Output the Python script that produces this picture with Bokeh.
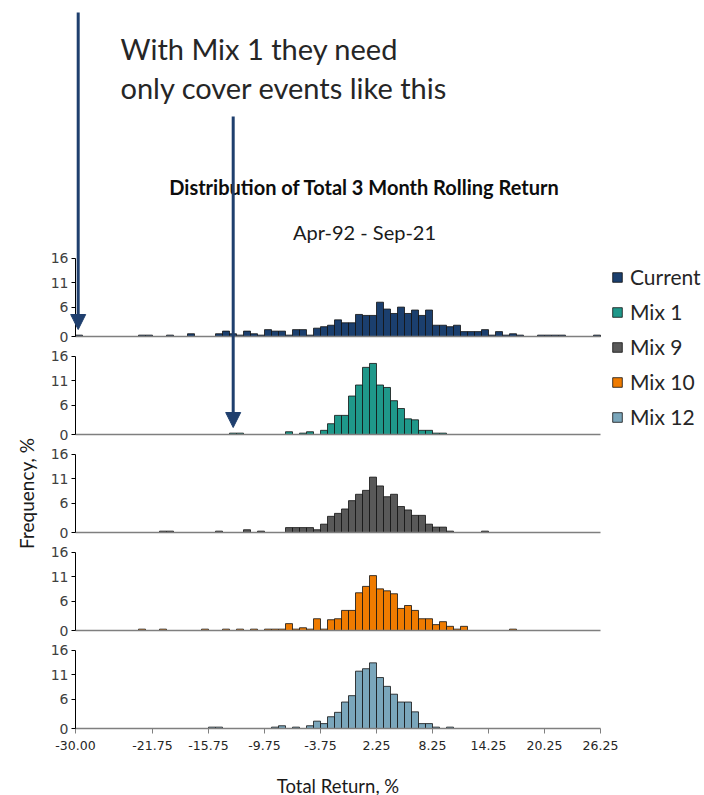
from bokeh.plotting import figure
from bokeh.models import (Range1d, LinearAxis, FixedTicker, PrintfTickFormatter, Label,
                          Arrow, NormalHead, Legend, LegendItem, ColumnDataSource)
from bokeh.embed import file_html
from bokeh.resources import INLINE

# ---------------- data ----------------
BIN_LEFT = [-30.00, -29.25, -28.50, -27.75, -27.00, -26.25, -25.50, -24.75, -24.00, -23.25,
            -22.50, -21.75, -21.00, -20.25, -19.50, -18.75, -18.00, -17.25, -16.50, -15.75,
            -15.00, -14.25, -13.50, -12.75, -12.00, -11.25, -10.50, -9.75, -9.00, -8.25,
            -7.50, -6.75, -6.00, -5.25, -4.50, -3.75, -3.00, -2.25, -1.50, -0.75,
            0.00, 0.75, 1.50, 2.25, 3.00, 3.75, 4.50, 5.25, 6.00, 6.75,
            7.50, 8.25, 9.00, 9.75, 10.50, 11.25, 12.00, 12.75, 13.50, 14.25,
            15.00, 15.75, 16.50, 17.25, 18.00, 18.75, 19.50, 20.25, 21.00, 21.75,
            22.50, 23.25, 24.00, 24.75, 25.50]
BIN_WIDTH = 0.75

CURRENT = [0.28, 0, 0, 0, 0, 0, 0, 0, 0, 0.28,
           0.28, 0, 0, 0.28, 0, 0, 0.56, 0, 0, 0,
           0.56, 1.1, 0.56, 0.28, 1.1, 0.56, 0.28, 1.4, 1.1, 1.1,
           0.28, 1.4, 1.4, 0.28, 1.7, 2.0, 2.3, 3.4, 2.8, 2.8,
           4.5, 4.3, 4.3, 7.0, 5.6, 4.7, 6.0, 4.7, 5.4, 4.3,
           5.4, 2.3, 2.3, 2.0, 2.3, 1.0, 1.0, 1.0, 1.4, 0.28,
           1.0, 0.28, 0.56, 0.28, 0, 0, 0.28, 0.28, 0.28, 0.28,
           0, 0, 0, 0, 0.28]
MIX_1 = [0, 0, 0, 0, 0, 0, 0, 0, 0, 0,
         0, 0, 0, 0, 0, 0, 0, 0, 0, 0,
         0, 0, 0.28, 0.28, 0, 0, 0, 0, 0, 0,
         0.56, 0, 0.28, 0.56, 0, 0.85, 2.2, 3.9, 3.9, 7.85,
         10.1, 13.7, 14.5, 10.1, 9.6, 6.9, 5.3, 3.2, 3.0, 0.85,
         0.85, 0.28, 0.28, 0, 0, 0, 0, 0, 0, 0,
         0, 0, 0, 0, 0, 0, 0, 0, 0, 0,
         0, 0, 0, 0, 0]
MIX_9 = [0, 0, 0, 0, 0, 0, 0, 0, 0, 0,
         0, 0, 0.28, 0.28, 0, 0, 0, 0, 0, 0,
         0.28, 0, 0, 0, 0.56, 0, 0.28, 0, 0, 0,
         1.0, 1.0, 1.0, 1.0, 0.56, 1.7, 3.3, 3.9, 4.8, 6.5,
         7.8, 8.6, 11.3, 9.5, 7.3, 7.8, 5.3, 4.6, 3.5, 3.5,
         1.7, 1.1, 1.1, 0.28, 0, 0, 0, 0, 0.28, 0,
         0, 0, 0, 0, 0, 0, 0, 0, 0, 0,
         0, 0, 0, 0, 0]
MIX_10 = [0, 0, 0, 0, 0, 0, 0, 0, 0, 0.28,
          0, 0, 0.28, 0, 0, 0, 0, 0, 0.28, 0,
          0, 0.28, 0, 0.28, 0, 0.28, 0, 0.28, 0.28, 0.28,
          1.4, 0.28, 0.56, 0.28, 2.4, 0.28, 2.2, 2.4, 4.1, 4.1,
          7.7, 9.0, 11.2, 8.5, 8.1, 7.5, 4.5, 5.1, 4.1, 2.4,
          2.4, 1.2, 1.8, 0.85, 0.28, 0.85, 0, 0, 0, 0,
          0, 0, 0.28, 0, 0, 0, 0, 0, 0, 0,
          0, 0, 0, 0, 0]
MIX_12 = [0, 0, 0, 0, 0, 0, 0, 0, 0, 0,
          0, 0, 0, 0, 0, 0, 0, 0, 0, 0.28,
          0.28, 0, 0, 0, 0, 0, 0, 0, 0.28, 0.56,
          0, 0.28, 0, 0.56, 1.5, 1.0, 2.4, 3.3, 5.4, 6.7,
          11.7, 12.2, 13.4, 10.4, 8.6, 7.0, 5.4, 5.4, 3.4, 1.0,
          1.0, 0.28, 0, 0.28, 0, 0, 0, 0, 0, 0,
          0, 0, 0, 0, 0, 0, 0, 0, 0, 0,
          0, 0, 0, 0, 0]

SERIES_NAMES = ["Current", "Mix 1", "Mix 9", "Mix 10", "Mix 12"]
SERIES_VALUES = [CURRENT, MIX_1, MIX_9, MIX_10, MIX_12]
SERIES_COLORS = ["#1B3F6E", "#1F988A", "#595959", "#EF7B00", "#7AA6BB"]

Y_TICKS = [0, 6, 11, 16]
X_TICKS = [-30.00, -21.75, -15.75, -9.75, -3.75, 2.25, 8.25, 14.25, 20.25, 26.25]
X_MIN, X_MAX = -30.0, 26.25
Y_MAX = 16

TITLE = "Distribution of Total 3 Month Rolling Return"
SUBTITLE = "Apr-92 - Sep-21"
NOTE_LINES = ["With Mix 1 they need", "only cover events like this"]
X_LABEL = "Total Return, %"
Y_LABEL = "Frequency, %"

# ---------------- layout ----------------
W, H = 704, 795
AXIS_PX = 75                # pixel column of x = -30
BASE_PX = 728               # pixel row of the bottom panel's zero line
PX_X = 525 / 56.25          # pixels per % on x
PX_Y = 4.9                  # pixels per % on y
PANEL_STEP = 20             # vertical distance between panels, in y units
X_START = X_MIN - AXIS_PX / PX_X
X_END = X_MIN + (W - AXIS_PX) / PX_X
Y_START = -(H - BASE_PX) / PX_Y
Y_END = BASE_PX / PX_Y


def yp(py):
    """pixel row -> main y coordinate"""
    return (BASE_PX - py) / PX_Y


def xp(px):
    """pixel column -> x coordinate"""
    return X_MIN + (px - AXIS_PX) / PX_X


TEXT_FONT = "Lato"
NUM_FONT = "DejaVu Sans"
ARROW_COLOR = "#1F3F6E"

p = figure(width=W, height=H, output_backend="svg", toolbar_location=None,
           x_range=Range1d(X_START, X_END), y_range=Range1d(Y_START, Y_END),
           x_axis_location=None, y_axis_location=None,
           min_border_left=0, min_border_right=0, min_border_top=0,
           min_border_bottom=0)
p.outline_line_color = None
p.grid.visible = False
p.background_fill_color = "white"
p.border_fill_color = "white"

renderers = []
n = len(SERIES_NAMES)
for i, (name, vals, color) in enumerate(zip(SERIES_NAMES, SERIES_VALUES, SERIES_COLORS)):
    base = (n - 1 - i) * PANEL_STEP
    rname = f"panel{i}"
    p.extra_y_ranges[rname] = Range1d(Y_START - base, Y_END - base)
    left = [b for b, v in zip(BIN_LEFT, vals) if v > 0]
    top = [v for v in vals if v > 0]
    src = ColumnDataSource(dict(left=left, right=[b + BIN_WIDTH for b in left], top=top))
    r = p.quad(left="left", right="right", bottom=0, top="top", source=src,
               y_range_name=rname, fill_color=color, line_color="#111111", line_width=0.8)
    renderers.append(r)

    ya = LinearAxis(y_range_name=rname, fixed_location=X_MIN,
                    ticker=FixedTicker(ticks=Y_TICKS), bounds=(0, Y_MAX))
    ya.axis_line_color = "black"
    ya.axis_line_width = 1
    ya.major_tick_line_color = "black"
    ya.major_tick_out = 4
    ya.major_tick_in = 0
    ya.minor_tick_line_color = None
    ya.major_label_standoff = 3
    ya.major_label_text_font = NUM_FONT
    ya.major_label_text_font_size = "14px"
    ya.major_label_text_color = "#404040"
    if i == 2:
        ya.axis_label = Y_LABEL
        ya.axis_label_text_font = TEXT_FONT
        ya.axis_label_text_font_size = "19px"
        ya.axis_label_text_font_style = "normal"
        ya.axis_label_text_color = "#1a1a1a"
        ya.axis_label_standoff = 10
    p.add_layout(ya, "left")

    xa = LinearAxis(y_range_name=rname, fixed_location=0, bounds=(X_MIN, X_MAX))
    xa.axis_line_color = "#7f7f7f"
    xa.axis_line_width = 1.5
    xa.minor_tick_line_color = None
    if i < n - 1:
        xa.ticker = FixedTicker(ticks=[])
        xa.major_label_text_font_size = "0px"
        xa.major_tick_out = 0
        xa.major_tick_in = 0
    else:
        xa.ticker = FixedTicker(ticks=X_TICKS)
        xa.formatter = PrintfTickFormatter(format="%.2f")
        xa.axis_label = X_LABEL
        xa.major_tick_line_color = "#7f7f7f"
        xa.major_tick_out = 5
        xa.major_tick_in = 0
        xa.major_label_standoff = 7
        xa.major_label_text_font = NUM_FONT
        xa.major_label_text_font_size = "12.5px"
        xa.major_label_text_color = "#262626"
        xa.axis_label_text_font = TEXT_FONT
        xa.axis_label_text_font_size = "18.5px"
        xa.axis_label_text_font_style = "normal"
        xa.axis_label_text_color = "#1a1a1a"
        xa.axis_label_standoff = 22
    p.add_layout(xa, "below")

# legend
legend = Legend(items=[LegendItem(label=nm, renderers=[r]) for nm, r in zip(SERIES_NAMES, renderers)],
                location=(611, 299 + (H - BASE_PX)), orientation="vertical",
                glyph_width=12, glyph_height=12, label_standoff=7, spacing=10,
                padding=0, margin=0, label_height=24,
                border_line_color=None, background_fill_alpha=0,
                label_text_font=TEXT_FONT, label_text_font_size="21px",
                label_text_color="#262626")
p.add_layout(legend)

# titles and note
p.add_layout(Label(x=xp(364), y=yp(186), text=TITLE, text_align="center", text_baseline="middle",
                   text_font=TEXT_FONT, text_font_size="20px", text_font_style="bold",
                   text_color="#0d0d0d"))
p.add_layout(Label(x=xp(364), y=yp(231), text=SUBTITLE, text_align="center", text_baseline="middle",
                   text_font=TEXT_FONT, text_font_size="20px", text_color="#1a1a1a"))
for line, py in zip(NOTE_LINES, [48, 87]):
    p.add_layout(Label(x=xp(120), y=yp(py), text=line, text_align="left", text_baseline="middle",
                       text_font=TEXT_FONT, text_font_size="29px", text_color="#262626"))

# arrows
for (px, py0, py1) in [(77.7, 12, 329), (232.7, 116, 427)]:
    p.add_layout(Arrow(end=NormalHead(size=15, fill_color=ARROW_COLOR, line_color=ARROW_COLOR),
                       x_start=xp(px), y_start=yp(py0), x_end=xp(px), y_end=yp(py1),
                       line_color=ARROW_COLOR, line_width=3))

open("out.html", "w").write(file_html(p, INLINE))
